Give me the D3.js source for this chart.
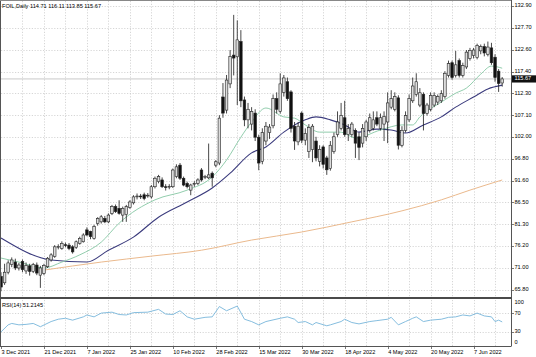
<!DOCTYPE html>
<html><head><meta charset="utf-8">
<script src="https://cdn.jsdelivr.net/npm/d3@7"></script>
<style>
body{margin:0;background:#fff}
svg{display:block}
text{font-family:"Liberation Sans",Arial,sans-serif;font-size:5.6px;fill:#000}
</style>
</head><body><svg id="c" width="536" height="357"></svg>
<script>
// ---------- data ----------
const symbolTitle = "FOIL,Daily";
const lastQuote = [114.71, 116.11, 113.85, 115.67];
const rsiTitle = "RSI(14)";
const rsiLast = 51.2145;

const openP = [69.0,67.5,70.0,71.8,72.4,71.0,72.5,70.3,71.5,70.2,71.7,69.3,69.7,71.3,72.9,73.7,75.9,75.6,76.5,76.4,
76.0,75.9,76.8,77.2,80.0,79.6,78.0,81.5,81.9,82.7,81.9,83.9,85.5,85.1,83.5,83.6,85.3,86.4,87.8,88.0,
88.3,88.1,87.8,90.2,91.4,91.8,90.2,90.1,90.2,92.6,95.3,92.2,91.0,89.4,90.8,91.0,94.15,92.4,92.3,93.4,
95.3,95.8,111.4,108.3,114.5,121.3,120.9,124.5,110.7,106.0,105.0,107.6,101.9,96.2,101.0,103.0,104.6,111.0,108.0,112.5,
115.0,112.6,104.5,100.8,107.6,101.2,98.5,99.0,101.0,96.2,99.6,97.0,94.5,98.5,102.5,104.0,106.5,102.5,102.5,103.5,
102.0,100.5,102.0,103.5,104.0,106.5,104.0,105.0,105.5,109.0,108.5,111.2,100.0,103.5,106.0,110.5,112.0,109.5,112.0,107.5,
108.5,109.5,110.2,110.5,111.5,116.5,119.5,116.5,120.0,116.5,118.5,120.5,121.2,120.7,122.3,123.3,121.5,123.0,120.8,117.5,
114.71];
const highP = [70.0,72.0,72.8,73.5,73.2,72.2,73.0,72.3,72.0,72.2,72.3,71.5,72.0,73.6,74.5,76.4,76.6,77.3,77.0,76.9,
76.4,77.5,78.4,79.2,80.6,79.8,81.2,83.0,83.5,83.3,83.9,85.9,86.0,87.0,85.5,85.9,87.0,88.2,88.6,88.5,
88.8,88.7,90.6,92.6,93.0,92.4,90.8,90.8,94.5,95.5,95.8,92.6,91.4,90.9,91.5,92.2,94.6,93.0,100.4,93.8,
96.5,107.1,114.7,116.6,122.5,130.8,129.5,127.2,111.5,110.0,109.0,108.5,102.5,104.0,105.5,105.0,112.0,112.5,117.0,116.6,
116.0,113.0,105.5,105.5,108.0,104.0,105.0,105.0,102.0,100.0,100.0,97.5,101.0,103.0,108.0,110.0,110.5,105.0,105.5,104.0,
103.0,105.0,106.0,107.5,108.0,108.0,107.5,108.0,112.5,113.0,112.5,111.8,104.5,108.0,112.0,116.0,117.0,113.5,112.5,110.0,
112.5,112.5,112.0,113.0,117.5,120.0,120.0,122.3,120.5,119.5,122.5,123.0,123.0,124.0,123.8,124.0,124.5,124.2,121.5,118.0,
116.11];
const lowP = [65.5,67.0,69.5,71.2,70.5,70.4,70.0,69.6,69.2,69.8,69.3,66.3,69.3,71.0,72.5,73.4,75.4,75.3,75.9,75.2,
74.4,75.5,76.5,77.0,78.5,77.8,77.7,81.0,81.5,81.6,81.6,83.5,84.0,83.6,81.9,81.9,85.0,86.0,87.2,87.3,
87.0,87.6,87.4,89.8,91.0,89.9,89.3,89.6,89.9,92.2,91.8,90.3,89.8,88.2,90.2,90.6,91.4,92.0,92.0,90.2,
94.8,95.3,106.5,107.5,113.5,116.5,109.5,109.0,104.5,104.0,103.5,101.0,94.1,95.5,100.0,101.5,104.0,107.5,107.5,111.5,
110.5,103.0,98.9,100.0,100.5,100.0,97.0,96.0,96.2,95.0,94.5,93.0,94.0,98.0,102.0,103.5,102.0,101.0,102.0,97.0,
96.5,99.5,101.0,103.0,103.5,104.5,103.5,101.0,100.5,108.5,108.0,99.0,99.5,103.0,105.5,110.0,111.5,109.0,103.5,107.0,
108.0,109.0,109.5,110.0,111.0,116.0,115.5,116.0,116.0,116.0,118.0,120.0,120.5,120.3,121.5,121.0,121.0,119.0,115.0,112.6,
113.85];
const closeP = [66.5,70.0,72.2,72.9,71.0,71.7,70.6,71.6,70.2,71.8,69.8,71.0,71.6,73.3,74.1,76.0,76.1,76.8,76.3,75.6,
74.8,77.2,78.0,78.8,78.8,78.4,80.8,82.7,83.1,81.9,83.5,85.5,84.3,83.9,85.1,85.5,86.6,87.8,88.0,87.8,
87.4,88.2,90.2,92.2,92.6,90.2,90.1,90.3,94.15,94.9,92.2,90.6,90.2,90.6,91.0,91.8,91.8,92.6,93.0,92.3,
96.1,106.4,107.6,115.4,121.0,120.6,124.9,110.5,106.0,108.5,108.0,101.9,95.8,103.0,104.5,104.3,111.0,108.5,114.5,115.9,
111.0,104.0,101.0,104.5,101.2,102.8,104.2,104.5,97.0,99.0,95.5,94.2,100.0,102.0,105.5,107.0,102.5,104.0,105.0,100.5,
99.5,104.0,105.5,106.5,106.0,105.0,106.5,106.8,110.0,111.0,111.5,100.0,103.5,107.0,111.0,114.0,115.0,112.4,107.5,109.5,
111.8,111.8,111.5,112.2,117.0,119.3,116.0,119.0,116.5,118.8,122.0,122.4,122.5,123.6,123.3,121.8,123.2,119.5,116.0,114.6,
115.67];

// moving averages at sample bars
const maFastBars = [0,5,12,17,22,28,33,43,52,59,63,67,70,74,79,82,85,89,95,99,106,112,115,117,123,127,130,134,137,140];
const maFastVals = [73.35,72.4,71.0,72.4,74.1,77.1,81.6,87.1,89.4,92.5,96.5,101.9,105.5,108.8,106.7,106.4,104.8,103.1,103.1,101.7,103.6,104.8,104.8,106.7,110.2,112.3,113.5,116.8,118.7,118.2];
const maSlowBars = [0,14,24,30,37,44,52,59,64,70,74,79,85,88,92,96,100,105,109,113,118,123,127,132,136,140];
const maSlowVals = [78.1,72.9,72.4,75.2,78.3,83.0,86.6,89.9,93.4,98.2,99.6,103.1,106.0,106.7,106.0,104.8,103.1,103.8,103.6,102.9,104.8,106.7,109.0,111.4,113.3,114.2];
const maLongBars = [12,28,42,56,70,84,98,112,123,131,140];
const maLongVals = [70.5,72.4,73.8,75.2,77.6,79.5,81.9,84.5,87.1,89.4,91.8];

// RSI(14)
const rsiBars = [0,2,3,5,7,9,11,14,16,18,20,23,24,26,28,31,33,35,37,41,44,46,48,50,52,54,57,59,61,63,66,68,70,72,74,78,80,82,83,85,87,88,91,92,95,96,98,100,103,105,108,109,111,113,115,116,118,120,123,125,127,129,131,133,135,137,138,139,140];
const rsiVals = [30,45,48,45,46,48,41,52,57,59,55,62,66,62,70,72,67,66,71,72,78,68,67,75,62,57,61,62,84,75,85,57,52,45,52,59,62,57,50,52,45,50,43,45,52,57,50,47,52,54,57,61,45,52,59,62,52,55,57,61,62,66,64,70,64,62,52,55,51.21];

// axes
const dateLabels = ["3 Dec 2021","21 Dec 2021","7 Jan 2022","25 Jan 2022","10 Feb 2022","28 Feb 2022","15 Mar 2022","30 Mar 2022","18 Apr 2022","4 May 2022","20 May 2022","7 Jun 2022"];
const dateLabelBars = [0,12,24,36,48,60,72,84,96,108,120,132];
const priceTicks = [132.90,127.70,122.60,117.40,112.30,107.10,102.00,96.80,91.60,86.50,81.30,76.20,71.00,65.80];
const rsiTicks = [100,70,30,0];
const rsiLevels = [70,30];

// ---------- drawing ----------
const svg = d3.select("#c");
const plotR = 511, mainTop = 1, mainBot = 297.5, rsiTop = 299, rsiBot = 346;
const nBars = closeP.length;
const x = d3.scaleLinear().domain([0, nBars - 1]).range([1, 502.2]);
const y = d3.scaleLinear().domain([65.8, 132.9]).range([290, 6]);
const yr = d3.scaleLinear().domain([0, 100]).range([rsiBot, rsiTop]);

svg.append("rect").attr("width",536).attr("height",357).attr("fill","#fff");

const defs = svg.append("defs");
defs.append("clipPath").attr("id","mainClip").append("rect")
  .attr("x",0.5).attr("y",mainTop).attr("width",plotR-0.5).attr("height",mainBot-mainTop);
defs.append("clipPath").attr("id","rsiClip").append("rect")
  .attr("x",0.5).attr("y",rsiTop).attr("width",plotR-0.5).attr("height",rsiBot-rsiTop);

const gridCol = "#c4c4c4";
// vertical grid (every 6 bars)
const vgrid = d3.range(6, nBars, 6);
const grid = svg.append("g").attr("stroke",gridCol).attr("stroke-width",0.7).attr("stroke-dasharray","1.2,1.6");
grid.selectAll("line.v1").data(vgrid).join("line")
  .attr("x1",d=>Math.round(x(d))+0.5).attr("x2",d=>Math.round(x(d))+0.5)
  .attr("y1",mainTop).attr("y2",mainBot-1);
grid.selectAll("line.v2").data(vgrid).join("line").attr("class","v2")
  .attr("x1",d=>Math.round(x(d))+0.5).attr("x2",d=>Math.round(x(d))+0.5)
  .attr("y1",rsiTop+1).attr("y2",rsiBot);
grid.selectAll("line.h").data(priceTicks).join("line").attr("class","h")
  .attr("x1",1).attr("x2",plotR)
  .attr("y1",d=>Math.round(y(d))+0.5).attr("y2",d=>Math.round(y(d))+0.5);
grid.selectAll("line.r").data(rsiLevels).join("line").attr("class","r")
  .attr("x1",1).attr("x2",plotR)
  .attr("y1",d=>Math.round(yr(d))+0.5).attr("y2",d=>Math.round(yr(d))+0.5);

// bid line
svg.append("line").attr("x1",1).attr("x2",plotR)
  .attr("y1",y(lastQuote[3])).attr("y2",y(lastQuote[3]))
  .attr("stroke","#bdbdbd").attr("stroke-width",0.8);

const main = svg.append("g").attr("clip-path","url(#mainClip)");

// moving averages
const line = d3.line().x(d=>x(d[0])).y(d=>y(d[1])).curve(d3.curveMonotoneX);
function drawMA(bars, vals, col, w){
  main.append("path").datum(bars.map((b,i)=>[b, vals[i]]))
    .attr("d", line).attr("fill","none").attr("stroke",col).attr("stroke-width",w);
}
drawMA(maLongBars, maLongVals, "#eab98d", 1);
drawMA(maSlowBars, maSlowVals, "#3b3b7d", 1.1);
drawMA(maFastBars, maFastVals, "#86c7a4", 0.9);

// candles
const bw = 2.6;
const candles = main.append("g");
d3.range(nBars).forEach(i=>{
  const o=openP[i], h=highP[i], l=lowP[i], c=closeP[i];
  const cx = x(i);
  const bull = c >= o;
  candles.append("line").attr("x1",cx).attr("x2",cx).attr("y1",y(h)).attr("y2",y(l))
    .attr("stroke","#1a1a1a").attr("stroke-width",0.8);
  const top = y(Math.max(o,c)), bot = y(Math.min(o,c));
  candles.append("rect").attr("x",cx-bw/2).attr("y",top).attr("width",bw)
    .attr("height",Math.max(0.8, bot-top))
    .attr("fill", bull ? "#dcdcdc" : "#111").attr("stroke","#222").attr("stroke-width",0.6);
});

// RSI line
const rsiG = svg.append("g").attr("clip-path","url(#rsiClip)");
rsiG.append("path").datum(rsiBars.map((b,i)=>[b, rsiVals[i]]))
  .attr("d", d3.line().x(d=>x(d[0])).y(d=>yr(d[1])))
  .attr("fill","none").attr("stroke","#77b6da").attr("stroke-width",0.9);

// frames
const frame = svg.append("g").attr("stroke","#555").attr("fill","none");
frame.append("line").attr("x1",0.5).attr("x2",0.5).attr("y1",0).attr("y2",rsiBot);
frame.append("line").attr("x1",0).attr("x2",plotR).attr("y1",0.5).attr("y2",0.5).attr("stroke","#888");
frame.append("line").attr("x1",plotR+0.5).attr("x2",plotR+0.5).attr("y1",0).attr("y2",rsiBot);
frame.append("line").attr("x1",0).attr("x2",plotR+0.5).attr("y1",rsiBot+0.5).attr("y2",rsiBot+0.5);
frame.append("line").attr("x1",0).attr("x2",plotR+0.5).attr("y1",298).attr("y2",298)
  .attr("stroke","#4a4a4a").attr("stroke-width",2);

// price axis
const pa = svg.append("g");
pa.selectAll("line").data(priceTicks).join("line")
  .attr("x1",plotR).attr("x2",plotR+3).attr("y1",d=>Math.round(y(d))+0.5).attr("y2",d=>Math.round(y(d))+0.5)
  .attr("stroke","#555").attr("stroke-width",0.8);
pa.selectAll("text").data(priceTicks).join("text")
  .attr("x",plotR+3.5).attr("y",d=>y(d)).attr("dominant-baseline","middle")
  .text(d=>d.toFixed(2));

// current price box
const lp = y(lastQuote[3]);
svg.append("rect").attr("x",plotR+1).attr("y",lp-3.6).attr("width",24).attr("height",7.2).attr("fill","#111");
svg.append("text").attr("x",plotR+3.5).attr("y",lp).attr("dominant-baseline","middle")
  .style("fill","#fff").text(lastQuote[3].toFixed(2));

// rsi axis
const ra = svg.append("g");
ra.selectAll("text").data(rsiTicks).join("text")
  .attr("x",plotR+3.5).attr("y",d=>Math.min(343,Math.max(303,yr(d)))).attr("dominant-baseline","middle")
  .text(d=>d);
ra.selectAll("line").data(rsiLevels).join("line")
  .attr("x1",plotR).attr("x2",plotR+3).attr("y1",d=>Math.round(yr(d))+0.5).attr("y2",d=>Math.round(yr(d))+0.5)
  .attr("stroke","#555").attr("stroke-width",0.8);

// date axis
const da = svg.append("g");
da.selectAll("line").data(dateLabelBars).join("line")
  .attr("x1",d=>Math.round(x(d))+0.5).attr("x2",d=>Math.round(x(d))+0.5)
  .attr("y1",rsiBot).attr("y2",rsiBot+3).attr("stroke","#555").attr("stroke-width",0.8);
da.selectAll("text").data(dateLabels).join("text")
  .attr("x",(d,i)=>x(dateLabelBars[i])+0.5).attr("y",354)
  .text(d=>d);

// titles
svg.append("text").attr("x",2).attr("y",8.3)
  .text(symbolTitle + "  " + lastQuote.map(v=>v.toFixed(2)).join(" "));
svg.append("text").attr("x",2).attr("y",306.5)
  .text(rsiTitle + " " + rsiLast.toFixed(4));
</script>
</body></html>
